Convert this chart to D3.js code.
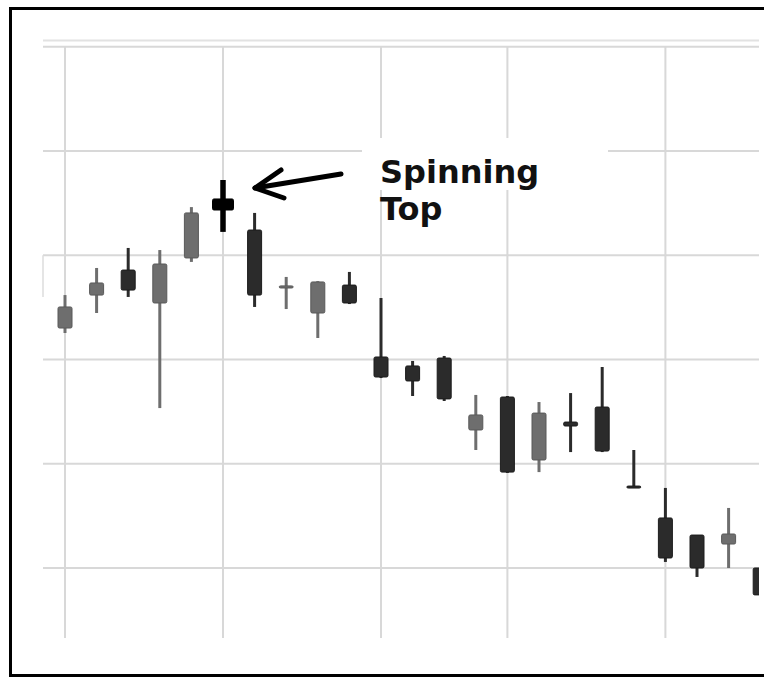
<!DOCTYPE html>
<html>
<head>
<meta charset="utf-8">
<script src="https://cdn.jsdelivr.net/npm/d3@7"></script>
<style>
  html, body { margin: 0; padding: 0; background: #fff; }
  svg { display: block; }
</style>
</head>
<body>
<svg id="chart" width="764" height="681"></svg>
<script>
// ---- data ----
const openVals  = [46.51, 48.09, 49.29, 47.71, 49.87, 52.70, 51.21, 48.43, 47.23, 48.57, 45.12, 44.69, 45.07, 41.62, 43.20, 40.18, 42.00, 42.72, 38.93, 37.40, 36.58, 36.15, 35.00];
const closeVals = [47.52, 48.67, 48.33, 49.58, 52.03, 52.17, 48.09, 48.53, 48.72, 47.71, 44.16, 43.97, 43.11, 42.34, 39.60, 42.43, 41.81, 40.61, 38.84, 35.48, 35.00, 36.63, 33.71];
const highVals  = [48.09, 49.39, 50.35, 50.25, 52.31, 53.61, 52.03, 48.96, 48.76, 49.20, 47.95, 44.93, 45.17, 43.30, 43.25, 42.96, 43.39, 44.64, 40.66, 38.84, 36.58, 37.88, 35.00];
const lowVals   = [46.27, 47.23, 48.00, 42.67, 49.68, 51.12, 47.52, 47.42, 46.03, 47.66, 44.11, 43.25, 43.01, 40.66, 39.56, 39.60, 40.56, 40.56, 38.84, 35.29, 34.57, 35.00, 33.71];
const xGridIdx  = [0, 5, 10, 14, 19];          // week starts
const yGridVals = [60, 55, 50, 45, 40, 35];
const highlightIdx = 5;                        // the spinning top
const annotationLines = ["Spinning", "Top"];

const candles = openVals.map((o, i) => ({
  i, open: o, close: closeVals[i], high: highVals[i], low: lowVals[i]
}));

// ---- scales ----
const x = d3.scaleLinear().domain([0, 22]).range([65, 65 + 22 * 31.6]);
const y = d3.scaleLinear().domain([55, 35]).range([151, 568]);

const svg = d3.select("#chart");

const clipRight = 759;
svg.append("defs").append("clipPath").attr("id", "plotclip")
  .append("rect").attr("x", 20).attr("y", 20).attr("width", clipRight - 20).attr("height", 640);

const g = svg.append("g").attr("clip-path", "url(#plotclip)");

const gridColor = "#d8d8d8";

// plot top frame line
g.append("line")
  .attr("x1", 43).attr("x2", clipRight).attr("y1", 40.5).attr("y2", 40.5)
  .attr("stroke", "#e2e2e2").attr("stroke-width", 2);

// horizontal grid
g.selectAll("line.hgrid").data(yGridVals).join("line")
  .attr("class", "hgrid")
  .attr("x1", 43).attr("x2", clipRight)
  .attr("y1", d => y(d)).attr("y2", d => y(d))
  .attr("stroke", gridColor).attr("stroke-width", 2);

// vertical grid
g.selectAll("line.vgrid").data(xGridIdx).join("line")
  .attr("class", "vgrid")
  .attr("x1", d => x(d)).attr("x2", d => x(d))
  .attr("y1", 47).attr("y2", 638)
  .attr("stroke", gridColor).attr("stroke-width", 2);

// small left bracket artifact
g.append("line")
  .attr("x1", 43).attr("x2", 43).attr("y1", y(50)).attr("y2", y(48))
  .attr("stroke", "#dcdcdc").attr("stroke-width", 1.5);

// white box behind the annotation text
g.append("rect")
  .attr("x", 362).attr("y", 138).attr("width", 246).attr("height", 52)
  .attr("fill", "#fff");

// ---- candles ----
const colUp = "#6e6e6e", colUpStroke = "#595959";
const colDn = "#2b2b2b", colDnStroke = "#1c1c1c";

const cg = g.selectAll("g.candle").data(candles).join("g").attr("class", "candle");

cg.append("line")
  .attr("x1", d => x(d.i)).attr("x2", d => x(d.i))
  .attr("y1", d => y(d.high)).attr("y2", d => y(d.low))
  .attr("stroke", d => d.i === highlightIdx ? "#000" : (d.close > d.open ? colUp : colDn))
  .attr("stroke-width", d => d.i === highlightIdx ? 5.5 : 3);

cg.append("rect")
  .attr("x", d => x(d.i) - (d.i === highlightIdx ? 10.5 : 7))
  .attr("width", d => d.i === highlightIdx ? 21 : 14)
  .attr("y", d => y(Math.max(d.open, d.close)))
  .attr("height", d => Math.max(2, Math.abs(y(d.open) - y(d.close))))
  .attr("rx", 1.5)
  .attr("fill", d => d.i === highlightIdx ? "#000" : (d.close > d.open ? colUp : colDn))
  .attr("stroke", d => d.i === highlightIdx ? "#000" : (d.close > d.open ? colUpStroke : colDnStroke))
  .attr("stroke-width", 1);

// ---- annotation ----
const arrow = svg.append("g")
  .attr("stroke", "#000").attr("stroke-width", 5)
  .attr("stroke-linecap", "round").attr("fill", "none");
arrow.append("line").attr("x1", 341).attr("y1", 174).attr("x2", 255).attr("y2", 188);
arrow.append("polyline").attr("points", "281,170 255,188 284,198").attr("stroke-linejoin", "round");

svg.selectAll("text.ann").data(annotationLines).join("text")
  .attr("class", "ann")
  .attr("x", 380)
  .attr("y", (d, i) => 183 + i * 37)
  .attr("font-family", "'DejaVu Sans', sans-serif")
  .attr("font-weight", "bold")
  .attr("font-size", 32)
  .attr("fill", "#111")
  .text(d => d);

// ---- outer frame ----
svg.append("rect")
  .attr("x", 10.5).attr("y", 8.5).attr("width", 800).attr("height", 667)
  .attr("fill", "none").attr("stroke", "#000").attr("stroke-width", 3);
</script>
</body>
</html>
